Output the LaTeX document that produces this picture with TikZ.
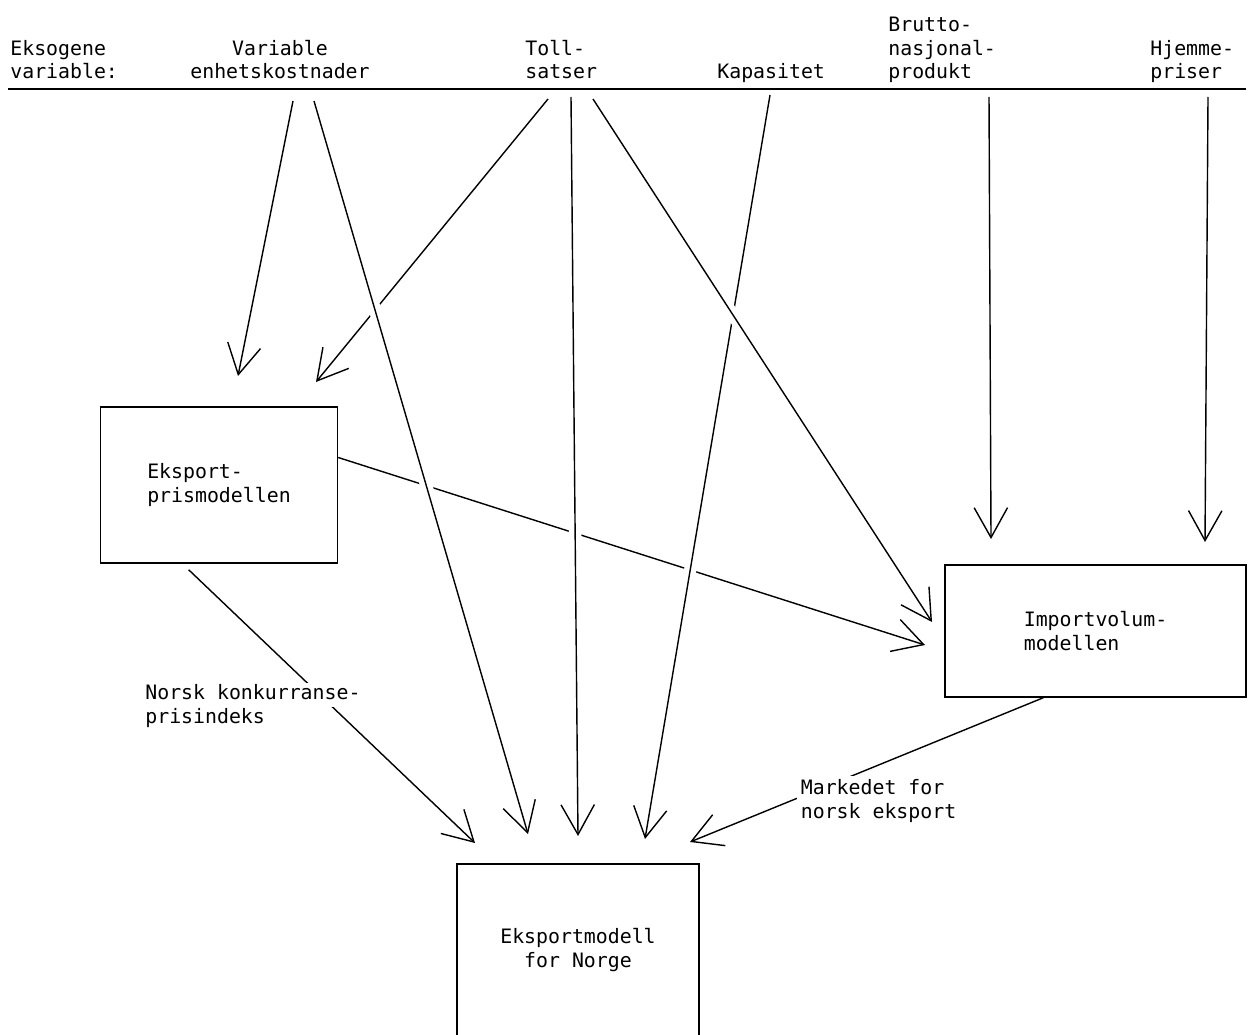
\documentclass[tikz,border=0pt]{standalone}
\usepackage{fontspec}
\setmainfont{DejaVu Sans Mono}
\usetikzlibrary{arrows.meta,calc}

\tikzset{
  box/.style={draw, line width=0.8pt, inner sep=0pt},
  arr/.style={-{Straight Barb[length=17pt,width=19pt]}, line width=0.8pt},
  over/.style={preaction={draw=white, line width=7pt, -}},
  head/.style={inner sep=0pt, align=left, anchor=base west},
  lbl/.style={fill=white, inner sep=2pt, align=left, anchor=west},
}
\setlength{\fboxsep}{0pt}

\begin{document}
\begin{tikzpicture}[x=0.02cm, y=-0.02cm, every node/.style={font=\fontsize{11.3}{13.6}\selectfont}]
        \useasboundingbox (0,0) rectangle (1250,1034);

        % exogenous variables along the top
        \node[head] (eksog) at (10,79) {Eksogene\\variable:};
        \node[head, align=center, anchor=base] (varkost) at (280,79) {Variable\\enhetskostnader};
        \node[head] (toll) at (525,79) {Toll-\\satser};
        \node[head] (kap) at (717,79) {Kapasitet};
        \node[head] (bnp) at (888,79) {Brutto-\\nasjonal-\\produkt};
        \node[head] (hjem) at (1150,79) {Hjemme-\\priser};
        \draw[line width=0.8pt] (8,89) -- (1246,89);

        % the three models
        \node[box, minimum width=4.74cm, minimum height=3.12cm, align=left] (pris) at (219,485) {Eksport-\\prismodellen};
        \node[box, minimum width=6.02cm, minimum height=2.64cm, align=left] (imp) at (1095.5,631) {Importvolum-\\modellen};
        \node[box, minimum width=4.84cm, minimum height=3.44cm, align=center] (eksm) at (578,950) {Eksportmodell\\for Norge};

        % where the arrows leave the top line
        \coordinate (v1) at (293,101);
        \coordinate (v2) at (314,101);
        \coordinate (t1) at (548,99);
        \coordinate (t2) at (571,97);
        \coordinate (t3) at (593,99);
        \coordinate (k1) at (770,95);
        \coordinate (b1) at (989,97);
        \coordinate (h1) at (1208,97);

        % arrow tips in front of the models
        \coordinate (p1) at (238,376);
        \coordinate (p2) at (316,382);
        \coordinate (i1) at (932,622);
        \coordinate (i2) at (925,645);
        \coordinate (i3) at (991,539);
        \coordinate (i4) at (1205,542);
        \coordinate (e1) at (475,843);
        \coordinate (e2) at (528,834);
        \coordinate (e3) at (578,836);
        \coordinate (e4) at (645,839);
        \coordinate (e5) at (690,842);

        % lines that pass behind the others
        \draw[arr] (pris.13) -- (i2);
        \foreach \s/\t in {v1/p1, t1/p2}{
            \draw[arr] (\s) -- (\t);
        }

        % lines on top, cut a gap in the ones below
        \foreach \s/\t in {k1/e4, t3/i1, v2/e2, t2/e3}{
            \draw[arr, over] (\s) -- (\t);
        }

        \foreach \s/\t in {b1/i3, h1/i4}{
            \draw[arr] (\s) -- (\t);
        }

        % model outputs into the export model
        \draw[arr, shorten <=5pt] (pris.-115) -- (e1);
        \draw[arr] (imp.-128) -- (e5);
        \node[inner sep=0pt, align=left, anchor=west] (konk) at (145,705) {Norsk \colorbox{white}{\strut konkurranse-}\\prisindeks};
        \node[lbl] (marked) at (797,801) {Markedet for\\norsk eksport};
\end{tikzpicture}
\end{document}
